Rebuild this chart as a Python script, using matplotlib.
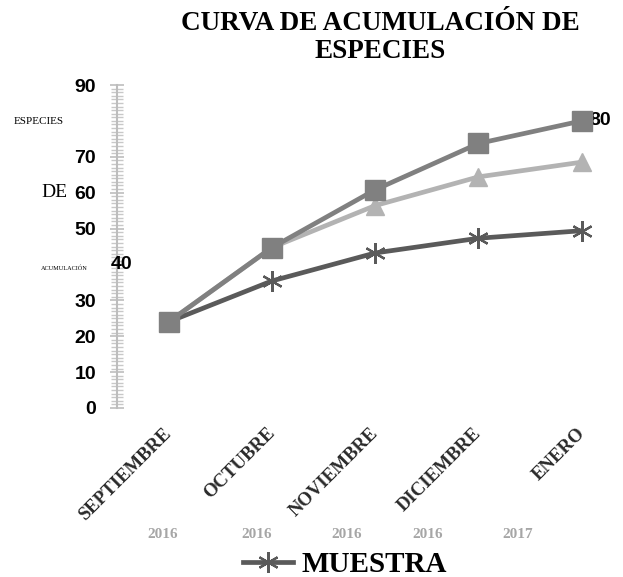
import matplotlib
matplotlib.use("Agg")
import matplotlib.pyplot as plt
from matplotlib.ticker import MultipleLocator

months = ["SEPTIEMBRE", "OCTUBRE", "NOVIEMBRE", "DICIEMBRE", "ENERO"]
years = ["2016", "2016", "2016", "2016", "2017"]
serie_cuadros = [24, 44.7, 60.8, 73.7, 80]
serie_triangulos = [24, 44.7, 56.4, 64.4, 68.5]
muestra = [24, 35.4, 43.2, 47.3, 49.4]
ytick_vals = [0, 10, 20, 30, 50, 60, 70, 90]

W, H = 623, 577
fig = plt.figure(figsize=(W / 100, H / 100), dpi=100)
fig.patch.set_facecolor("white")

def fx(px):
    return px / W

def fy(py):
    return 1 - py / H

ax_left, ax_right = 117, 623
ax_top, ax_bot = 85, 408
ax = fig.add_axes([fx(ax_left), fy(ax_bot), fx(ax_right - ax_left), (ax_bot - ax_top) / H])
ax.set_xlim(-0.5, 4.4)
ax.set_ylim(0, 90)

x = list(range(len(months)))
ax.plot(x, serie_triangulos, color="#b3b3b3", lw=3.4, marker="^", ms=13, zorder=3, clip_on=False)
ax.plot(x, muestra, color="#5a5a5a", lw=3.4, marker=(6, 2, 0), ms=15, mew=1.6, zorder=4, clip_on=False)
ax.plot(x, serie_cuadros, color="#808080", lw=3.4, marker="s", ms=14, zorder=5, clip_on=False)

for s in ["top", "right", "bottom"]:
    ax.spines[s].set_visible(False)
ax.spines["left"].set_color("#bdbdbd")
ax.spines["left"].set_linewidth(1.5)

ax.set_xticks(x)
ax.set_xticklabels([])
ax.tick_params(axis="x", length=0)

ax.set_yticks(ytick_vals)
ax.set_yticklabels([str(v) for v in ytick_vals], fontfamily="Liberation Sans",
                   fontweight="bold", fontsize=14)
ax.yaxis.set_minor_locator(MultipleLocator(1))
ax.tick_params(axis="y", which="major", direction="inout", length=10, width=1.2,
               color="#bdbdbd", pad=10)
ax.tick_params(axis="y", which="minor", direction="inout", length=8, width=1.0,
               color="#c8c8c8")

# misplaced labels as in reference
ax.text(-0.46, 40, "40", fontfamily="Liberation Sans", fontweight="bold",
        fontsize=14, ha="center", va="center")
ax.text(4.18, serie_cuadros[-1], "80", fontfamily="Liberation Sans", fontweight="bold",
        fontsize=14, ha="center", va="center")

# month labels rotated
for i, m in enumerate(months):
    ax.annotate(m, xy=(i, 0), xycoords="data", xytext=(-4, -12), textcoords="offset points",
                rotation=45, ha="right", va="top", rotation_mode="anchor",
                fontfamily="Liberation Serif", fontweight="bold", fontsize=13.5,
                color="#2a2a2a")

# years
year_px = [163, 257, 347, 428, 518]
for px, yr in zip(year_px, years):
    fig.text(fx(px), fy(535), yr, ha="center", va="center", fontfamily="Liberation Serif",
             fontweight="bold", fontsize=11, color="#a6a6a6")

# y-axis label fragments
fig.text(fx(39), fy(122), "ESPECIES", ha="center", va="center",
         fontfamily="Liberation Serif", fontsize=8)
fig.text(fx(54), fy(192), "DE", ha="center", va="center",
         fontfamily="Liberation Serif", fontsize=14)
fig.text(fx(64), fy(268), "ACUMULACIÓN", ha="center", va="center",
         fontfamily="Liberation Serif", fontsize=4.5)

# title
fig.text(fx(380), fy(23), "CURVA DE ACUMULACIÓN DE", ha="center", va="center",
         fontfamily="Liberation Serif", fontweight="bold", fontsize=19.5)
fig.text(fx(380), fy(51), "ESPECIES", ha="center", va="center",
         fontfamily="Liberation Serif", fontweight="bold", fontsize=19.5)

# legend
leg = fig.legend(handles=[ax.lines[1]], labels=["MUESTRA"], loc="center",
                 bbox_to_anchor=(fx(345), fy(565)), frameon=False,
                 prop={"family": "Liberation Serif", "weight": "bold", "size": 21},
                 handlelength=1.7, handletextpad=0.3, borderpad=0)

fig.savefig("out.png", dpi=100, facecolor="white")
